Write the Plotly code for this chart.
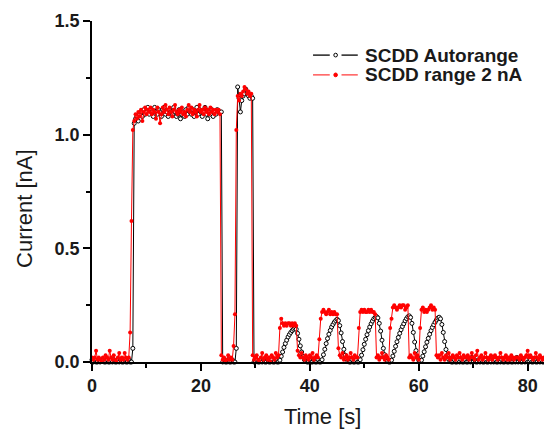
import plotly.graph_objects as go

# sampling step of both recordings [s]
dt = 0.25

# SCDD Autorange [nA], one value every dt starting at t = 0
autorange_na = [
    # 0 - 7.25 s
    0.01, 0.00, 0.01, 0.00, 0.00, 0.01, 0.00, 0.01, 0.01, 0.00,
    0.00, 0.01, 0.00, 0.00, 0.01, 0.00, 0.01, 0.00, 0.00, 0.01,
    0.00, 0.01, 0.00, 0.00, 0.01, 0.00, 0.00, 0.01, 0.00, 0.00,
    0.06,
    # 7.75 - 23.75 s
    1.05, 1.07, 1.08, 1.06, 1.09, 1.10, 1.08, 1.11, 1.09, 1.10,
    1.12, 1.09, 1.11, 1.10, 1.08, 1.12, 1.10, 1.09, 1.11, 1.10,
    1.08, 1.11, 1.12, 1.09, 1.10, 1.08, 1.11, 1.10, 1.09, 1.12,
    1.10, 1.08, 1.09, 1.11, 1.07, 1.09, 1.10, 1.08, 1.11, 1.09,
    1.12, 1.10, 1.09, 1.11, 1.08, 1.10, 1.12, 1.09, 1.11, 1.10,
    1.08, 1.10, 1.12, 1.09, 1.07, 1.10, 1.09, 1.11, 1.08, 1.10,
    1.09, 1.11, 1.10, 1.10, 1.10,
    # 24 - 26.25 s
    0.00, 0.01, 0.00, 0.00, 0.01, 0.00, 0.00, 0.01, 0.00, 0.00,
    0.06,
    # 26.75 - 29.5 s
    1.21, 1.16, 1.10, 1.15, 1.17, 1.18, 1.20, 1.18, 1.17, 1.16, 1.17, 1.16,
    0.00,
    # 30 - 34.25 s
    0.00, 0.01, 0.00, 0.00, 0.01, 0.00, 0.01, 0.00, 0.00, 0.01,
    0.00, 0.00, 0.01, 0.00, 0.00, 0.01, 0.00, 0.00,
    # pulse 1
    0.008, 0.025, 0.044, 0.064, 0.081, 0.096, 0.11, 0.121, 0.13, 0.138, 0.144, 0.148,
    0.144, 0.126, 0.1, 0.071, 0.044, 0.024, 0.01, 0.003, 0.0,
    0.00, 0.01, 0.00, 0.00, 0.01, 0.00, 0.00, 0.01, 0.00, 0.00,
    # pulse 2
    0.01, 0.032, 0.056, 0.081, 0.103, 0.122, 0.139, 0.154, 0.165, 0.175, 0.182, 0.188,
    0.182, 0.16, 0.128, 0.09, 0.056, 0.03, 0.013, 0.004, 0.0,
    0.00, 0.01, 0.00, 0.00, 0.01, 0.00, 0.00,
    # pulse 3
    0.01, 0.03, 0.054, 0.078, 0.1, 0.12, 0.138, 0.154, 0.168, 0.18, 0.19, 0.196, 0.2,
    0.194, 0.17, 0.136, 0.096, 0.06, 0.032, 0.014, 0.004, 0.0,
    0.0,
    # pulse 4
    0.008, 0.026, 0.047, 0.069, 0.089, 0.108, 0.126, 0.142, 0.156, 0.168, 0.181, 0.191, 0.199, 0.203,
    0.196, 0.17, 0.13, 0.088, 0.05, 0.022, 0.008, 0.002,
    # pulse 5
    0.008, 0.026, 0.045, 0.067, 0.087, 0.104, 0.122, 0.138, 0.152, 0.164, 0.175, 0.185, 0.193, 0.197,
    0.19, 0.165, 0.13, 0.09, 0.055, 0.028, 0.012, 0.004, 0.0,
    # 66.25 - 83 s
    0.00, 0.01, 0.00, 0.00, 0.01, 0.00, 0.01, 0.00, 0.00, 0.01,
    0.00, 0.00, 0.01, 0.00, 0.02, 0.00, 0.01, 0.00, 0.00, 0.01,
    0.00, 0.01, 0.00, 0.00, 0.01, 0.00, 0.00, 0.01, 0.00, 0.02,
    0.00, 0.01, 0.00, 0.00, 0.01, 0.00, 0.01, 0.00, 0.00, 0.01,
    0.00, 0.00, 0.01, 0.00, 0.00, 0.01, 0.00, 0.02, 0.00, 0.01,
    0.00, 0.00, 0.01, 0.00, 0.01, 0.00, 0.00, 0.01, 0.00, 0.00,
    0.01, 0.00, 0.00, 0.01, 0.00, 0.01, 0.00, 0.00,
]

# SCDD range 2 nA [nA], same time base
range2_na = [
    # 0 - 6.75 s
    0.02, 0.01, 0.02, 0.05, 0.01, 0.02, 0.01, 0.00, 0.02, 0.01,
    0.03, 0.02, 0.01, 0.05, 0.02, 0.01, 0.03, 0.01, 0.00, 0.02,
    0.04, 0.01, 0.02, 0.01, 0.04, 0.02, 0.01, 0.02,
    0.13, 0.62, 1.02,
    # 7.75 - 23.5 s
    1.06, 1.09, 1.07, 1.10, 1.08, 1.11, 1.06, 1.10, 1.12, 1.09,
    1.11, 1.10, 1.12, 1.09, 1.11, 1.10, 1.07, 1.12, 1.10, 1.05,
    1.09, 1.12, 1.10, 1.13, 1.11, 1.09, 1.12, 1.10, 1.08, 1.11,
    1.13, 1.10, 1.09, 1.11, 1.10, 1.12, 1.09, 1.10, 1.08, 1.11,
    1.13, 1.10, 1.12, 1.09, 1.11, 1.10, 1.08, 1.11, 1.13, 1.10,
    1.11, 1.09, 1.12, 1.10, 1.11, 1.09, 1.12, 1.10, 1.11, 1.09,
    1.11, 1.10, 1.11, 1.09,
    0.03,
    # 24 - 25.75 s
    0.01, 0.02, 0.00, 0.01, 0.03, 0.01, 0.02, 0.01,
    0.07, 0.21, 1.02,
    # 26.75 - 29.25 s
    1.17, 1.15, 1.18, 1.17, 1.19, 1.21, 1.20, 1.18, 1.19, 1.17, 1.18,
    0.03,
    # 29.75 - 34.25 s
    0.01, 0.02, 0.03, 0.01, 0.00, 0.02, 0.04, 0.01, 0.02, 0.03,
    0.01, 0.02, 0.00, 0.03, 0.02, 0.01, 0.04, 0.02, 0.03,
    # pulse 1
    0.15, 0.19, 0.17, 0.16, 0.17, 0.16, 0.17, 0.17, 0.16, 0.17, 0.16, 0.17, 0.16,
    0.05,
    0.03, 0.02, 0.04, 0.02, 0.01, 0.03, 0.02, 0.01, 0.03, 0.02,
    0.04, 0.01, 0.02, 0.03, 0.02, 0.10,
    # pulse 2
    0.19, 0.22, 0.23, 0.22, 0.21, 0.22, 0.23, 0.21, 0.22, 0.21, 0.22, 0.21, 0.21,
    0.06,
    0.03, 0.02, 0.04, 0.01, 0.02, 0.03, 0.01, 0.02, 0.04, 0.02, 0.01, 0.03, 0.02, 0.02,
    0.15,
    # pulse 3
    0.22, 0.23, 0.22, 0.23, 0.22, 0.22, 0.23, 0.22, 0.23, 0.22, 0.22, 0.21,
    0.02,
    0.03, 0.01, 0.02, 0.04, 0.02, 0.01, 0.03, 0.02, 0.01,
    0.15,
    # pulse 4
    0.19, 0.24, 0.25, 0.24, 0.23, 0.24, 0.25, 0.24, 0.25, 0.25, 0.23, 0.24, 0.25,
    0.02,
    0.03, 0.02, 0.01, 0.04, 0.02, 0.03, 0.01,
    0.15,
    # pulse 5
    0.23, 0.24, 0.22, 0.23, 0.22, 0.23, 0.24, 0.25, 0.23, 0.24, 0.23,
    0.03,
    # 63.5 - 83 s
    0.02, 0.03, 0.01, 0.04, 0.02, 0.01, 0.03, 0.02, 0.04, 0.01,
    0.02, 0.03, 0.02, 0.01, 0.03, 0.02, 0.04, 0.02, 0.01, 0.03,
    0.02, 0.02, 0.03, 0.01, 0.02, 0.04, 0.02, 0.01, 0.03, 0.05,
    0.01, 0.02, 0.03, 0.01, 0.02, 0.04, 0.02, 0.01, 0.02, 0.03,
    0.01, 0.02, 0.03, 0.02, 0.01, 0.02, 0.04, 0.02, 0.01, 0.02,
    0.03, 0.01, 0.02, 0.01, 0.03, 0.02, 0.01, 0.02, 0.02, 0.02,
    0.01, 0.03, 0.02, 0.01, 0.02, 0.03, 0.05, 0.02, 0.03, 0.02,
    0.01, 0.02, 0.04, 0.02, 0.01, 0.03, 0.02, 0.01, 0.02,
]

time_s = [k * dt for k in range(len(autorange_na))]

series_names = ["SCDD Autorange", "SCDD range 2 nA"]
x_ticks = [0, 20, 40, 60, 80]
y_ticks = [0.0, 0.5, 1.0, 1.5]
y_tick_text = ["0.0", "0.5", "1.0", "1.5"]

font_family = "Liberation Sans, Arial, sans-serif"
tick_font = dict(family=font_family, size=18, color="#1a1a1a", weight="bold")

fig = go.Figure()
fig.add_trace(go.Scatter(
    x=time_s, y=autorange_na, mode="lines+markers", name=series_names[0],
    line=dict(color="black", width=1),
    marker=dict(symbol="circle", size=4, color="white",
                line=dict(color="black", width=1)),
    cliponaxis=False,
))
fig.add_trace(go.Scatter(
    x=time_s, y=range2_na, mode="lines+markers", name=series_names[1],
    line=dict(color="red", width=1),
    marker=dict(symbol="circle", size=4, color="red"),
    cliponaxis=False,
))

# hand-drawn legend (line - marker - line, bold label), in paper coordinates
shapes = []
annotations = []
legend_rows = [(0.900, "black", "white"), (0.842, "#ff4040", "red")]
for (ly, lcol, fcol), name in zip(legend_rows, series_names):
    shapes.append(dict(type="line", xref="paper", yref="paper",
                       x0=0.489, x1=0.526, y0=ly, y1=ly,
                       line=dict(color=lcol, width=1.3)))
    shapes.append(dict(type="line", xref="paper", yref="paper",
                       x0=0.552, x1=0.588, y0=ly, y1=ly,
                       line=dict(color=lcol, width=1.3)))
    shapes.append(dict(type="circle", xref="paper", yref="paper",
                       x0=0.535, x1=0.543, y0=ly - 0.0055, y1=ly + 0.0055,
                       fillcolor=fcol, line=dict(color="black" if fcol == "white" else "red",
                                                 width=1)))
    annotations.append(dict(text=name, xref="paper", yref="paper", x=0.600, y=ly,
                            xanchor="left", yanchor="middle", showarrow=False,
                            font=dict(family=font_family, size=19, color="#1a1a1a",
                                      weight="bold")))

annotations += [
    dict(text="Time [s]", xref="paper", yref="paper", x=0.509, y=-0.16,
         xanchor="center", yanchor="middle", showarrow=False,
         font=dict(family=font_family, size=22, color="#1a1a1a")),
    dict(text="Current [nA]", xref="paper", yref="paper", x=-0.148, y=0.449,
         xanchor="center", yanchor="middle", textangle=-90, showarrow=False,
         font=dict(family=font_family, size=22, color="#1a1a1a")),
]

fig.update_layout(
    width=544, height=431,
    margin=dict(l=92, r=0, t=21, b=69),
    plot_bgcolor="white", paper_bgcolor="white",
    showlegend=False,
    shapes=shapes,
    annotations=annotations,
    xaxis=dict(range=[0, 83], tickvals=x_ticks, ticks="outside", ticklen=7,
               tickwidth=1.5, tickcolor="black", showline=True, linecolor="black",
               linewidth=1.5, showgrid=False, zeroline=False, tickfont=tick_font,
               minor=dict(ticks="outside", ticklen=4, tickwidth=1.5,
                          tickcolor="black", dtick=10, showgrid=False)),
    yaxis=dict(range=[0, 1.5], tickvals=y_ticks, ticktext=y_tick_text,
               ticks="outside", ticklen=7, tickwidth=1.5, tickcolor="black",
               showline=True, linecolor="black", linewidth=1.5, showgrid=False,
               zeroline=False, tickfont=tick_font,
               minor=dict(ticks="outside", ticklen=4, tickwidth=1.5,
                          tickcolor="black", dtick=0.25, showgrid=False)),
)

# drop the default 8 px body margin so the figure fills the window exactly
fig.write_html("out.html", config={"displayModeBar": False},
               post_script="document.body.style.margin = '0';")
